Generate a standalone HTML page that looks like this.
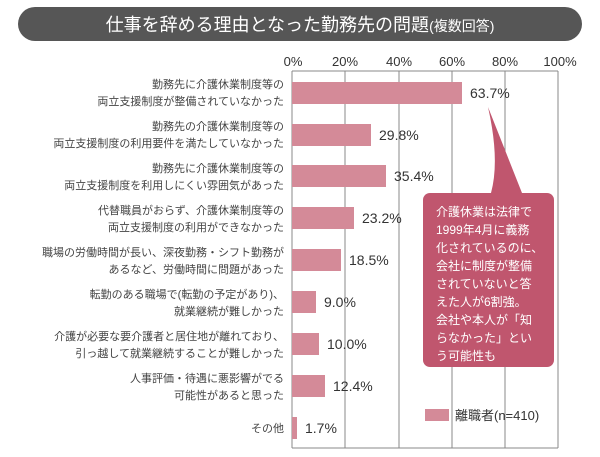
<!DOCTYPE html>
<html><head><meta charset="utf-8"><style>
body{margin:0;background:#fff;}
svg text{font-family:"Liberation Sans","Noto Sans CJK JP",sans-serif;}
</style></head><body>
<svg width="600" height="452" viewBox="0 0 600 452" xmlns="http://www.w3.org/2000/svg">
<rect x="18" y="7" width="564" height="34" rx="17" fill="#565656"/>
<text x="300" y="31" font-size="18" fill="#fff" text-anchor="middle">仕事を辞める理由となった勤務先の問題<tspan font-size="14">(複数回答)</tspan></text>
<g font-size="13" fill="#333" text-anchor="middle">
<text x="293" y="66">0%</text><text x="345" y="66">20%</text><text x="399" y="66">40%</text><text x="452" y="66">60%</text><text x="505" y="66">80%</text><text x="560" y="66">100%</text>
</g>
<g stroke="#888" stroke-width="1">
<line x1="292" y1="71" x2="292" y2="448"/>
<line x1="345" y1="71" x2="345" y2="448"/>
<line x1="399" y1="71" x2="399" y2="448"/>
<line x1="452" y1="71" x2="452" y2="448"/>
<line x1="505" y1="71" x2="505" y2="448"/>
<line x1="558" y1="71" x2="558" y2="448"/>
<line x1="292" y1="71" x2="558" y2="71"/>
<line x1="292" y1="448" x2="558" y2="448"/>
</g>
<g fill="#d48a98">
<rect x="292" y="82" width="170" height="22"/>
<rect x="292" y="124" width="79" height="22"/>
<rect x="292" y="165" width="94" height="22"/>
<rect x="292" y="207" width="62" height="22"/>
<rect x="292" y="249" width="49" height="22"/>
<rect x="292" y="291" width="24" height="22"/>
<rect x="292" y="333" width="27" height="22"/>
<rect x="292" y="375" width="33" height="22"/>
<rect x="292" y="417" width="5" height="22"/>
</g>
<g font-size="14" fill="#333">
<text x="470" y="98">63.7%</text>
<text x="379" y="140">29.8%</text>
<text x="394" y="181">35.4%</text>
<text x="362" y="223">23.2%</text>
<text x="349" y="265">18.5%</text>
<text x="324" y="307">9.0%</text>
<text x="327" y="349">10.0%</text>
<text x="333" y="391">12.4%</text>
<text x="305" y="433">1.7%</text>
</g>
<g font-size="11" fill="#444" text-anchor="end">
<text x="284" y="88">勤務先に介護休業制度等の</text><text x="284" y="105">両立支援制度が整備されていなかった</text>
<text x="284" y="130">勤務先の介護休業制度等の</text><text x="284" y="147">両立支援制度の利用要件を満たしていなかった</text>
<text x="284" y="172">勤務先に介護休業制度等の</text><text x="284" y="189">両立支援制度を利用しにくい雰囲気があった</text>
<text x="284" y="214">代替職員がおらず、介護休業制度等の</text><text x="284" y="231">両立支援制度の利用ができなかった</text>
<text x="284" y="256">職場の労働時間が長い、深夜勤務・シフト勤務が</text><text x="284" y="273">あるなど、労働時間に問題があった</text>
<text x="284" y="298">転勤のある職場で(転勤の予定があり)、</text><text x="284" y="315">就業継続が難しかった</text>
<text x="284" y="340">介護が必要な要介護者と居住地が離れており、</text><text x="284" y="357">引っ越して就業継続することが難しかった</text>
<text x="284" y="382">人事評価・待遇に悪影響がでる</text><text x="284" y="399">可能性があると思った</text>
<text x="284" y="432">その他</text>
</g>
<path d="M491 193 Q500 160 488 107 Q505 150 522 193 Z" fill="#c0566e"/>
<rect x="423" y="193" width="131" height="174" rx="7" fill="#c0566e"/>
<g font-size="12" fill="#fff">
<text x="436" y="216">介護休業は法律で</text>
<text x="436" y="234">1999年4月に義務</text>
<text x="436" y="252">化されているのに、</text>
<text x="436" y="270">会社に制度が整備</text>
<text x="436" y="288">されていないと答</text>
<text x="436" y="306">えた人が6割強。</text>
<text x="436" y="324">会社や本人が「知</text>
<text x="436" y="342">らなかった」とい</text>
<text x="436" y="360">う可能性も</text>
</g>
<rect x="425" y="409" width="24" height="12" fill="#d48a98"/>
<text x="455" y="420" font-size="13" fill="#333">離職者(n=410)</text>
</svg>
</body></html>
